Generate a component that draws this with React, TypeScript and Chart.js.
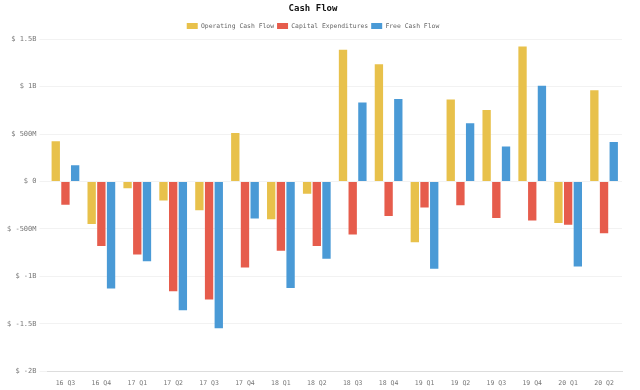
import React, { useEffect, useRef } from "react";
import { Chart, registerables } from "chart.js";

Chart.register(...registerables);

const categories = ["16 Q3", "16 Q4", "17 Q1", "17 Q2", "17 Q3", "17 Q4", "18 Q1", "18 Q2", "18 Q3", "18 Q4", "19 Q1", "19 Q2", "19 Q3", "19 Q4", "20 Q1", "20 Q2"];
const operatingCashFlow = [0.423, -0.447, -0.07, -0.2, -0.303, 0.51, -0.398, -0.13, 1.388, 1.237, -0.641, 0.863, 0.754, 1.424, -0.437, 0.962];
const capitalExpenditures = [-0.246, -0.68, -0.77, -1.156, -1.244, -0.906, -0.729, -0.68, -0.56, -0.363, -0.275, -0.25, -0.384, -0.412, -0.455, -0.546];
const freeCashFlow = [0.172, -1.128, -0.84, -1.357, -1.547, -0.391, -1.124, -0.814, 0.832, 0.87, -0.92, 0.613, 0.37, 1.01, -0.895, 0.415];

const FONT = "'DejaVu Sans Mono', monospace";

function fmt(v: number): string {
  if (v === 0) return "$ 0";
  const a = Math.abs(v);
  const s = v < 0 ? "-" : "";
  if (a >= 1) return "$ " + s + parseFloat(a.toFixed(2)) + "B";
  return "$ " + s + Math.round(a * 1000) + "M";
}

export default function App() {
  const ref = useRef<HTMLCanvasElement | null>(null);
  useEffect(() => {
    if (!ref.current) return;
    const chart = new Chart(ref.current, {
      type: "bar",
      data: {
        labels: categories,
        datasets: [
          { label: "Operating Cash Flow", data: operatingCashFlow, backgroundColor: "#E8C14B" },
          { label: "Capital Expenditures", data: capitalExpenditures, backgroundColor: "#E65C4C" },
          { label: "Free Cash Flow", data: freeCashFlow, backgroundColor: "#4A9AD6" },
        ],
      },
      options: {
        animation: false,
        responsive: true,
        maintainAspectRatio: false,
        layout: { padding: { left: 4, right: 18, top: 0, bottom: 3 } },
        datasets: { bar: { barPercentage: 0.86, categoryPercentage: 0.81 } },
        plugins: {
          title: {
            display: true,
            text: "Cash Flow",
            color: "#111",
            font: { family: FONT, size: 9, weight: "bold" },
            padding: { top: 3, bottom: 6 },
          },
          legend: {
            labels: {
              font: { family: FONT, size: 6.4 },
              color: "#666",
              boxWidth: 11,
              boxHeight: 6,
              padding: 3,
            },
          },
          tooltip: { enabled: false },
        },
        scales: {
          x: {
            grid: { display: false },
            border: { display: true, color: "#ddd" },
            ticks: { font: { family: FONT, size: 6.5 }, color: "#777", padding: 0 },
          },
          y: {
            min: -2,
            max: 1.5,
            grid: { color: "rgba(0,0,0,0.05)" },
            border: { display: false },
            ticks: {
              stepSize: 0.5,
              font: { family: FONT, size: 7 },
              color: "#777",
              callback: (v: any) => fmt(Number(v)),
            },
          },
        },
      },
    });
    return () => chart.destroy();
  }, []);
  return (
    <div style={{ position: "fixed", left: 0, top: 0, width: 640, height: 390 }}>
      <canvas ref={ref} />
    </div>
  );
}
